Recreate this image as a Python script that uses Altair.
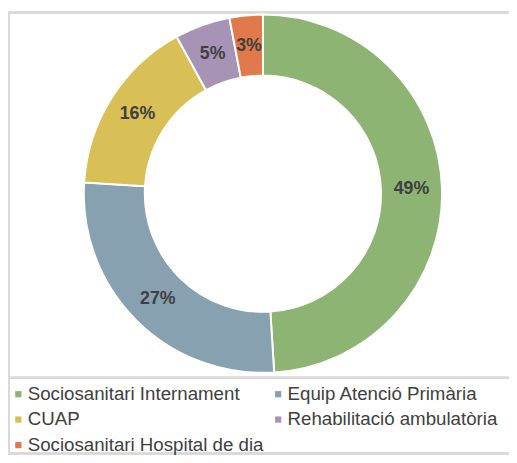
import altair as alt
import pandas as pd

categories = ["Sociosanitari Internament", "Equip Atenció Primària", "CUAP",
              "Rehabilitació ambulatòria", "Sociosanitari Hospital de dia"]
values = [49, 27, 16, 5, 3]
labels = ["49%", "27%", "16%", "5%", "3%"]
colors = ["#8DB472", "#88A1B1", "#D8BF56", "#A793B6", "#E07A4A"]

# legend is filled column by column: reorder so rows read as in the original
legend_order = [0, 2, 4, 1, 3]
legend_domain = [categories[i] for i in legend_order]
legend_range = [colors[i] for i in legend_order]

df = pd.DataFrame({"cat": categories, "value": values, "label": labels,
                   "order": list(range(len(categories)))})

FONT = "Liberation Sans"
CX, CY = 259, 185

base = alt.Chart(df).encode(
    theta=alt.Theta("value:Q", stack=True),
    order=alt.Order("order:Q"),
)

arcs = base.mark_arc(outerRadius=182, innerRadius=120, stroke="white", strokeWidth=2).encode(
    x=alt.value(CX), y=alt.value(CY),
    color=alt.Color("cat:N",
                    scale=alt.Scale(domain=legend_domain, range=legend_range),
                    legend=alt.Legend(title=None, orient="none", legendX=1, legendY=379,
                                      columns=2, symbolType="square", symbolSize=40,
                                      symbolStrokeWidth=0, labelFontSize=19, labelFont=FONT,
                                      labelColor="#404040", columnPadding=5, rowPadding=6,
                                      labelOffset=0, labelLimit=400)),
)

texts = base.mark_text(radius=151, font=FONT, fontSize=18, fontWeight="bold",
                       color="#404040").encode(
    x=alt.value(CX), y=alt.value(CY),
    text="label:N",
)

frame_color = "#D9D9D9"
top = alt.Chart(df).mark_rule(color=frame_color, strokeWidth=2).encode(
    x=alt.value(0), x2=alt.value(509), y=alt.value(1))
left = alt.Chart(df).mark_rule(color=frame_color, strokeWidth=2).encode(
    x=alt.value(1), y=alt.value(0), y2=alt.value(450))
sep = alt.Chart(df).mark_rule(color=frame_color, strokeWidth=2).encode(
    x=alt.value(0), x2=alt.value(509), y=alt.value(372))
bottom = alt.Chart(df).mark_rule(color=frame_color, strokeWidth=2).encode(
    x=alt.value(0), x2=alt.value(509), y=alt.value(449))

chart = alt.layer(top, left, sep, bottom, arcs, texts).properties(
    width=509, height=455, autosize=alt.AutoSizeParams(type="none"), padding=0
).configure_view(stroke=None)

chart.save("out.html", embed_options={"renderer": "svg", "actions": False})
